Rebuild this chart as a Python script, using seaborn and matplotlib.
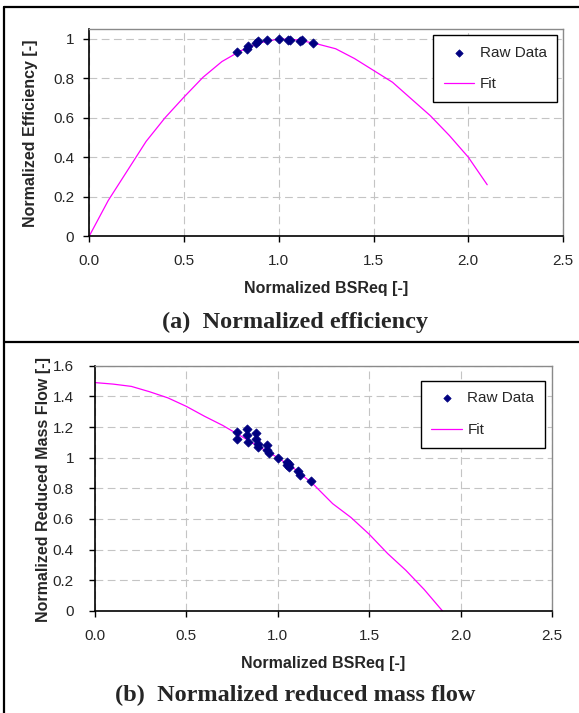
import matplotlib

matplotlib.use("Agg")
import matplotlib.pyplot as plt
import seaborn as sns
from matplotlib.lines import Line2D
from matplotlib.ticker import FuncFormatter, MultipleLocator

# (a) normalized efficiency
eff_bsr = [0.78, 0.83, 0.84, 0.88, 0.89, 0.94, 1.00, 1.05, 1.06, 1.11, 1.12, 1.18]
eff_raw = [0.935, 0.947, 0.965, 0.978, 0.987, 0.995, 1.0, 0.994, 0.996, 0.991, 0.993, 0.98]
eff_fit_bsr = [0.0, 0.1, 0.2, 0.3, 0.4, 0.5, 0.6, 0.7, 0.8, 0.9, 1.0,
               1.1, 1.2, 1.3, 1.4, 1.5, 1.6, 1.7, 1.8, 1.9, 2.0, 2.1]
eff_fit = [0.0, 0.18, 0.33, 0.48, 0.60, 0.705, 0.805, 0.885, 0.94, 0.98, 1.0,
           0.995, 0.975, 0.95, 0.90, 0.84, 0.78, 0.695, 0.61, 0.51, 0.40, 0.26]

# (b) normalized reduced mass flow
flow_bsr = [0.78, 0.78, 0.83, 0.83, 0.84, 0.88, 0.88, 0.89, 0.89, 0.94,
            0.94, 0.95, 1.00, 1.05, 1.05, 1.06, 1.06, 1.11, 1.12, 1.18]
flow_raw = [1.17, 1.12, 1.19, 1.15, 1.10, 1.16, 1.12, 1.09, 1.07, 1.08,
            1.05, 1.03, 1.00, 0.97, 0.95, 0.96, 0.94, 0.91, 0.89, 0.845]
flow_fit_bsr = [0.0, 0.1, 0.2, 0.3, 0.4, 0.5, 0.6, 0.7, 0.8, 0.9, 1.0,
                1.1, 1.2, 1.3, 1.4, 1.5, 1.6, 1.7, 1.8, 1.9]
flow_fit = [1.49, 1.48, 1.465, 1.43, 1.39, 1.335, 1.27, 1.21, 1.14, 1.07, 1.0,
            0.92, 0.82, 0.70, 0.61, 0.50, 0.375, 0.265, 0.14, 0.0]

NAVY = "#000080"
MAGENTA = "#ff00ff"
SANS = ["Liberation Sans", "DejaVu Sans"]
SERIF = ["Liberation Serif", "DejaVu Serif"]


def draw_panel(ax, x_raw, y_raw, x_fit, y_fit, ylabel, ymax, ypad, anchor, ylab_x, xlab_y):
    sns.lineplot(x=x_fit, y=y_fit, ax=ax, color=MAGENTA, linewidth=0.9,
                 estimator=None, sort=False, label="Fit", zorder=2)
    sns.scatterplot(x=x_raw, y=y_raw, ax=ax, marker="D", s=22, color=NAVY,
                    edgecolor=NAVY, linewidth=0.5, label="Raw Data", zorder=3)

    ax.set_xlim(0, 2.5)
    ax.set_ylim(0, ymax)
    ax.xaxis.set_major_locator(MultipleLocator(0.5))
    ax.yaxis.set_major_locator(MultipleLocator(0.2))
    ax.xaxis.set_major_formatter(FuncFormatter(lambda v, p: f"{v:.1f}"))
    ax.yaxis.set_major_formatter(FuncFormatter(lambda v, p: f"{v:g}"))

    ax.grid(True, color="#c4c4c4", linestyle=(0, (7, 4)), linewidth=0.8)
    ax.set_axisbelow(True)
    for side in ("left", "bottom"):
        ax.spines[side].set_color("black")
        ax.spines[side].set_linewidth(1.2)
    for side in ("top", "right"):
        ax.spines[side].set_color("#8a8a8a")
        ax.spines[side].set_linewidth(1.0)

    ax.tick_params(bottom=True, left=True, direction="out", length=4.5,
                   width=1.0, color="black", labelsize=11)
    ax.tick_params(axis="x", pad=8.5)
    ax.tick_params(axis="y", pad=ypad)
    for t in ax.get_xticklabels() + ax.get_yticklabels():
        t.set_family(SANS)

    ax.set_xlabel("Normalized BSReq [-]", fontsize=11.5, fontweight="bold", family=SANS)
    ax.set_ylabel(ylabel, fontsize=11.5, fontweight="bold", family=SANS)
    ax.xaxis.label.set_va("baseline")
    ax.yaxis.label.set_va("baseline")
    ax.xaxis.set_label_coords(0.5, xlab_y)
    ax.yaxis.set_label_coords(ylab_x, 0.495)

    handles, labels = ax.get_legend_handles_labels()
    order = [labels.index("Raw Data"), labels.index("Fit")]
    leg = ax.legend([handles[i] for i in order], [labels[i] for i in order],
                    loc="upper right", bbox_to_anchor=anchor, borderaxespad=0,
                    frameon=True, fancybox=False, edgecolor="black", framealpha=1,
                    prop={"family": SANS, "size": 11}, handlelength=2.0,
                    handletextpad=0.35, labelspacing=1.15, borderpad=0.7,
                    markerscale=0.8)
    leg.get_frame().set_linewidth(1.0)


def main() -> None:
    sns.set_theme(style="white")
    plt.rcParams["font.family"] = SANS

    fig = plt.figure(figsize=(5.79, 7.13), dpi=100)
    ax_a = fig.add_axes([0.1542, 0.6690, 0.8182, 0.2903])
    ax_b = fig.add_axes([0.1636, 0.1431, 0.7903, 0.3440])

    draw_panel(ax_a, eff_bsr, eff_raw, eff_fit_bsr, eff_fit,
               "Normalized Efficiency [-]", 1.05, 6.5, (0.988, 0.971), -0.1146, -0.277)
    draw_panel(ax_b, flow_bsr, flow_raw, flow_fit_bsr, flow_fit,
               "Normalized Reduced Mass Flow [-]", 1.6, 10.5, (0.984, 0.939), -0.102, -0.2336)

    fig.text(0.5095, 0.5395, "(a)  Normalized efficiency", ha="center", va="baseline",
             fontsize=17.5, fontweight="bold", family=SERIF)
    fig.text(0.5095, 0.0168, "(b)  Normalized reduced mass flow", ha="center", va="baseline",
             fontsize=17.5, fontweight="bold", family=SERIF)

    # panel frame
    fx, ftop, fmid = 0.0069, 0.9906, 0.5208
    for xs, ys in (([fx, 1.0], [ftop, ftop]), ([fx, fx], [0.0, ftop]), ([fx, 1.0], [fmid, fmid])):
        fig.add_artist(Line2D(xs, ys, transform=fig.transFigure, color="black", linewidth=1.6))

    fig.savefig("out.png", dpi=100)
    plt.close(fig)


if __name__ == "__main__":
    main()
